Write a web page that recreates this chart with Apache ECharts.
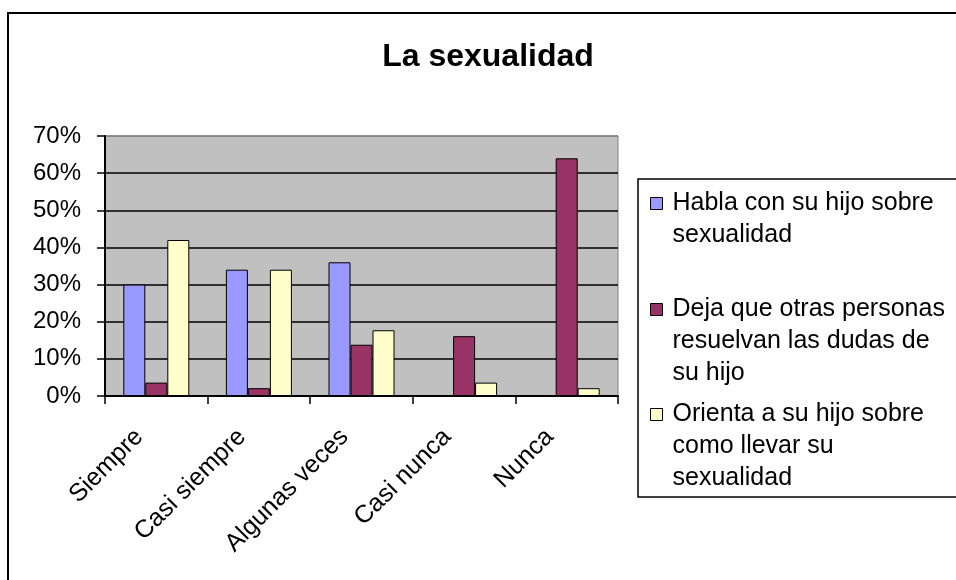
<!DOCTYPE html>
<html>
<head>
<meta charset="utf-8">
<script src="https://cdn.jsdelivr.net/npm/echarts@6/dist/echarts.min.js"></script>
<style>
  html, body { margin: 0; padding: 0; background: #fff; }
  #frame {
    position: absolute; left: 7px; top: 12px; width: 1000px; height: 620px;
    border-left: 2px solid #000; border-top: 2px solid #000;
  }
  #chart { position: absolute; left: 0; top: 0; width: 956px; height: 580px; }
</style>
</head>
<body>
<div id="frame"></div>
<div id="chart"></div>
<script>
const categories = ['Siempre', 'Casi siempre', 'Algunas veces', 'Casi nunca', 'Nunca']
const seriesNames = [
  'Habla con su hijo sobre\nsexualidad',
  'Deja que otras personas\nresuelvan las dudas de\nsu hijo',
  'Orienta a su hijo sobre\ncomo llevar su\nsexualidad'
]
const habla = [30, 34, 36, 0, 0]
const deja = [3.6, 2.1, 13.8, 16.1, 64]
const orienta = [42, 34, 17.7, 3.6, 2.1]
const yTicks = { min: 0, max: 70, interval: 10 }

const colors = ['#9999FF', '#993366', '#FFFFCC']
const font = '"Liberation Sans", Arial, sans-serif'
const lineH = 32
const iconSize = 12
const legendTops = [187, 293, 398]

const chart = echarts.init(document.getElementById('chart'))

// one legend per entry so the square sits next to the first line of text
// (icon path is as tall as the text block, square drawn at the top line)
const legends = seriesNames.map((name, i) => {
  const lines = name.split('\n').length
  const h = lines * lineH
  const y0 = (lineH - iconSize) / 2
  const icon = `path://M0,${y0}H${iconSize}V${y0 + iconSize}H0Z M0,0L0,0 M0,${h}L0,${h}`
  return {
    orient: 'vertical',
    left: 650,
    top: legendTops[i],
    padding: 0,
    itemWidth: iconSize,
    itemHeight: h,
    itemGap: 0,
    icon,
    itemStyle: { borderColor: '#000', borderWidth: 1 },
    selectedMode: false,
    textStyle: { fontSize: 25, color: '#000', lineHeight: lineH, fontFamily: font, padding: [0, 0, 0, 5] },
    data: [name]
  }
})

const makeSeries = (name, data, color) => ({
  name,
  type: 'bar',
  data,
  barWidth: 22,
  barGap: '0%',
  itemStyle: { color, borderColor: '#000', borderWidth: 1 },
  emphasis: { disabled: true }
})

const option = {
  animation: false,
  textStyle: { fontFamily: font },
  title: {
    text: 'La sexualidad',
    left: 483,
    textAlign: 'center',
    top: 36,
    textStyle: { fontSize: 32, fontWeight: 'bold', color: '#000', fontFamily: font }
  },
  graphic: [{
    type: 'rect',
    z: -1,
    shape: { x: 638, y: 179, width: 400, height: 318 },
    style: { fill: '#fff', stroke: '#000', lineWidth: 1.5 }
  }],
  legend: legends,
  grid: {
    left: 105,
    top: 136,
    right: 338,
    bottom: 184,
    show: true,
    backgroundColor: '#C0C0C0',
    borderColor: '#808080',
    borderWidth: 1,
    containLabel: false,
    outerBoundsMode: 'none'
  },
  xAxis: {
    type: 'category',
    data: categories,
    boundaryGap: true,
    axisLine: { lineStyle: { color: '#000', width: 2 } },
    axisTick: { show: true, length: 8, alignWithLabel: false, lineStyle: { color: '#000', width: 1.5 } },
    axisLabel: {
      interval: 0,
      rotate: 45,
      margin: 20,
      padding: [0, 24, 0, 0],
      fontSize: 25,
      color: '#000',
      fontFamily: font
    }
  },
  yAxis: {
    type: 'value',
    min: yTicks.min,
    max: yTicks.max,
    interval: yTicks.interval,
    axisLine: { show: true, lineStyle: { color: '#000', width: 2 } },
    axisTick: { show: true, length: 8, lineStyle: { color: '#000', width: 1.5 } },
    axisLabel: { formatter: '{value}%', margin: 24, fontSize: 24, color: '#000', fontFamily: font },
    splitLine: {
      show: true,
      lineStyle: {
        width: 1.5,
        color: ['#000', '#000', '#000', '#000', '#000', '#000', '#000', '#808080']
      }
    }
  },
  series: [
    makeSeries(seriesNames[0], habla, colors[0]),
    makeSeries(seriesNames[1], deja, colors[1]),
    makeSeries(seriesNames[2], orienta, colors[2])
  ]
}

chart.setOption(option)
</script>
</body>
</html>
